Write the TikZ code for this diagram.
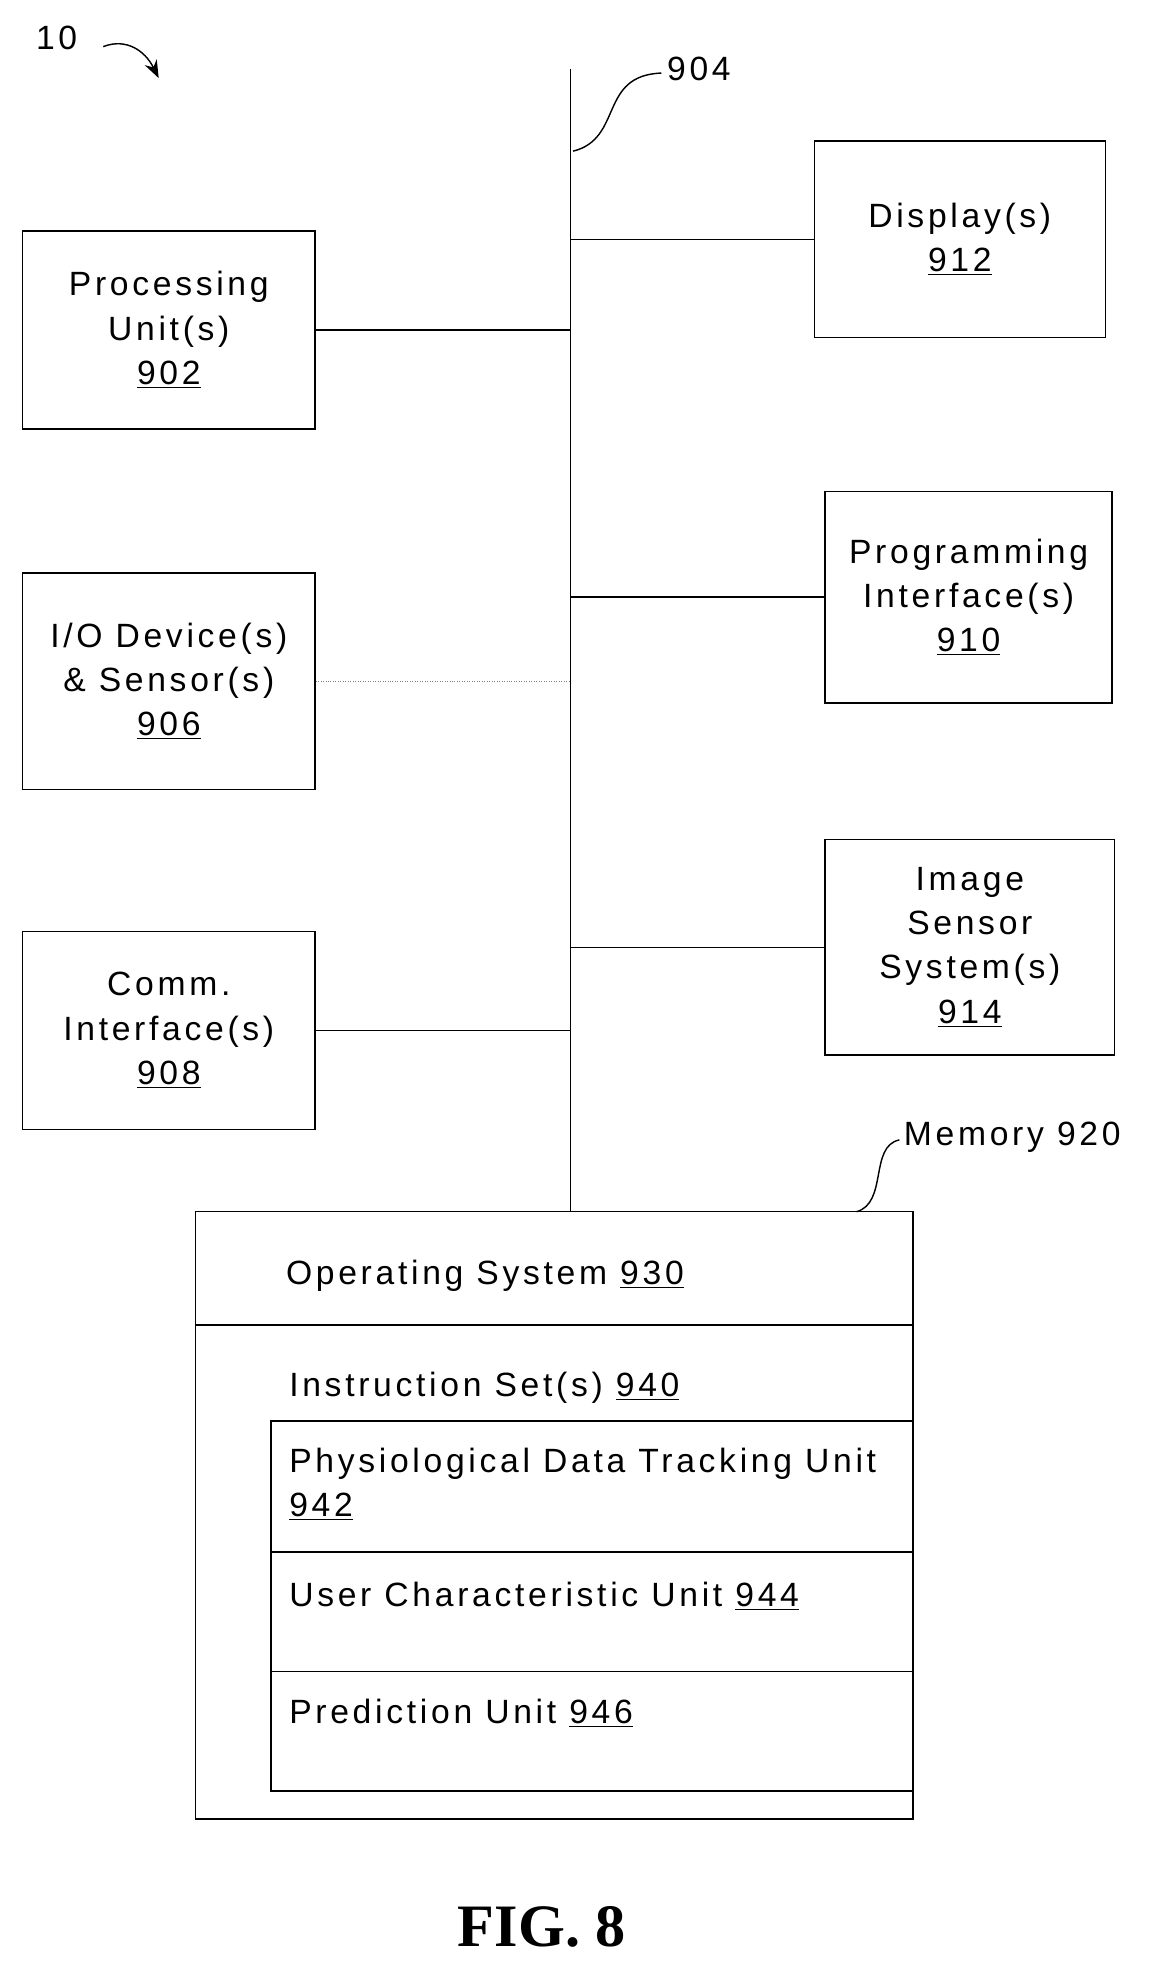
\documentclass[tikz,border=0pt]{standalone}
\usepackage{fontspec}
\setmainfont[LetterSpace=11]{Liberation Sans}
\usetikzlibrary{positioning,calc,arrows.meta}
\newcommand{\num}[1]{\underline{#1}}
\tikzset{
  blk/.style={draw, thick, align=center, inner sep=2pt, font=\fontsize{19}{25}\selectfont},
  txt/.style={font=\fontsize{19}{25}\selectfont, inner sep=1pt},
  link/.style={thick}
}
\begin{document}
\begin{tikzpicture}[x=0.025cm, y=-0.025cm]
    \useasboundingbox (0,0) rectangle (920,1568);
    % Label and arrow
    \node[txt] (ten) at (45,30) {10};
    \draw[thick, -{Stealth[length=10pt]}] (82,37) .. controls (100,30) and (115,40) .. (126,62);

    % Bus
    \coordinate (bustop) at (453,55);
    \coordinate (busbot) at (453,962);
    \draw[link] (bustop) -- (busbot);
    \node[txt, anchor=west] (n904) at (528,55) {904};
    \draw[thick] (455,120) .. controls (495,110) and (475,60) .. (525,58);

    % Left boxes
    \node[blk, minimum width=232*0.025cm, minimum height=157*0.025cm] (proc) at (134,262) {Processing\\Unit(s)\\\num{902}};
    \node[blk, minimum width=232*0.025cm, minimum height=172*0.025cm] (io) at (134,541) {I/O Device(s)\\\& Sensor(s)\\\num{906}};
    \node[blk, minimum width=232*0.025cm, minimum height=157*0.025cm] (comm) at (134,818) {Comm.\\Interface(s)\\\num{908}};

    % Right boxes
    \node[blk, minimum width=231*0.025cm, minimum height=156*0.025cm] (disp) at (762,190) {Display(s)\\\num{912}};
    \node[blk, minimum width=228*0.025cm, minimum height=168*0.025cm] (prog) at (769,474) {Programming\\Interface(s)\\\num{910}};
    \node[blk, minimum width=230*0.025cm, minimum height=171*0.025cm] (img) at (770,752) {Image\\Sensor\\System(s)\\\num{914}};

    % Bus links
    \draw[link] (proc.east) -- (proc.east -| bustop);
    \draw[thin, gray, densely dotted] (io.east) -- (io.east -| bustop);
    \draw[link] (comm.east) -- (comm.east -| bustop);
    \draw[link] (disp.west) -- (disp.west -| bustop);
    \draw[link] (prog.west) -- (prog.west -| bustop);
    \draw[link] (img.west) -- (img.west -| bustop);

    % Memory
    \draw[thick] (155,962) rectangle (725,1444);
    \draw[thick] (155,1052) -- (725,1052);
    \draw[thick] (215,1128) rectangle (725,1422);
    \draw[thick] (215,1232) -- (725,1232);
    \draw[thick] (215,1327) -- (725,1327);
    \node[txt] (os) at (385,1013) {Operating System \num{930}};
    \node[txt, anchor=west] (iset) at (228,1102) {Instruction Set(s) \num{940}};
    \node[txt, anchor=north west, align=left] (phys) at (228,1148) {Physiological Data Tracking Unit\\\num{942}};
    \node[txt, anchor=west] (user) at (228,1267) {User Characteristic Unit \num{944}};
    \node[txt, anchor=west] (pred) at (228,1360) {Prediction Unit \num{946}};
    \node[txt, anchor=west] (n920) at (716,903) {Memory 920};
    \draw[thick] (680,962) .. controls (705,955) and (690,910) .. (714,905);

    % Caption
    \node[font=\fontspec{Liberation Serif}\bfseries\fontsize{34}{40}\selectfont] (fig) at (430,1530) {FIG. 8};
\end{tikzpicture}
\end{document}
